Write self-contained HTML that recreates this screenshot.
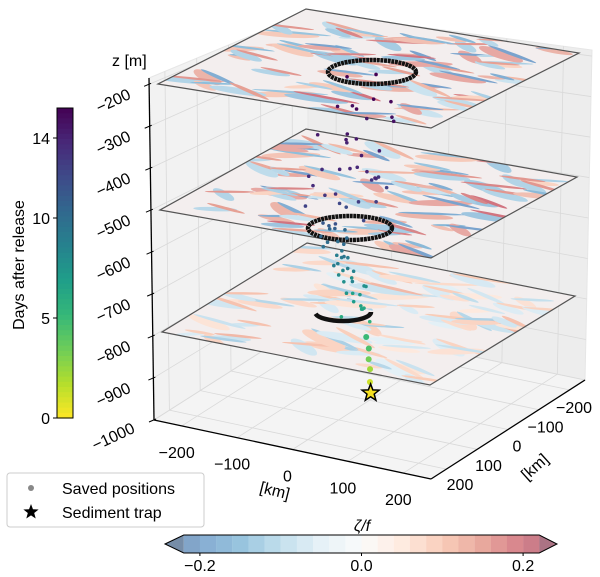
<!DOCTYPE html>
<html><head><meta charset="utf-8"><style>
html,body{margin:0;padding:0;background:#fff;}
svg{display:block;font-family:"Liberation Sans","DejaVu Sans",sans-serif;}
</style></head><body>
<svg id="fig" width="600" height="577" viewBox="0 0 600 577"><defs><clipPath id="unitclip"><rect x="0" y="0" width="100" height="100"/></clipPath></defs></svg>
<script>
// ---- data ----
const zTicks = [-200,-300,-400,-500,-600,-700,-800,-900,-1000];
const xTicks = [-200,-100,0,100,200];
const yTicks = [-200,-100,0,100,200];
const dayTicks = [0,5,10,14];
const vortTicks = [-0.2,0.0,0.2];
const planeDepths = [-190,-495,-790];
const partX = [0,40,20,-10,50,30,0,60,40,10,70,30,60,20,80,40, 0,-10,10,-20,0,-15,10,-10,0,-20,20,-10,10,0,20, 30,40,45,50,55, 25,-5,15,35,
  -30,60,-20,70,10,-40,50,-10,65,25,-35,45,5,75,-25,55,15,35,-5,85,
  -5,5,-15,15,-25,5,-5,15,-15,25,-10,0,10,-20,20,5,-5,15,-15,10];
const partY = [-40,40,60,20,0,80,60,60,120,100,90,150,130,120,150,170, 120,100,110,90,80,70,80,60,50,40,60,30,40,20,30, 60,70,80,85,95, 100,130,90,110,
  0,20,50,30,10,80,100,40,110,70,120,60,140,100,150,30,90,20,160,120,
  130,110,120,100,95,90,85,70,65,55,50,45,35,50,40,70,60,100,80,30];
const partZ = [-230,-240,-260,-280,-300,-320,-340,-350,-370,-390,-400,-420,-440,-460,-470,-480, -520,-540,-560,-580,-600,-620,-640,-660,-680,-700,-710,-730,-750,-770,-790, -810,-830,-850,-870,-895, -300,-380,-560,-650,
  -225,-250,-270,-290,-310,-330,-345,-360,-375,-395,-410,-425,-435,-450,-465,-455,-485,-440,-405,-380,
  -510,-530,-550,-570,-590,-610,-630,-650,-670,-690,-720,-740,-760,-780,-700,-620,-560,-600,-640,-760];
const partDay = [14,14,13.8,13.5,13.5,13,13,12.8,12.5,12.5,12,12,11.5,11,11,10.5, 10,9.5,9,9,8.5,8,8,7.5,7,7,6.5,6,6,5.5,5, 4.5,4,3,2,1, 13.2,12.2,9.2,7.8,
  14,13.8,13.6,13.4,13.2,13,12.9,12.7,12.6,12.4,12.2,11.9,11.7,11.4,11.2,11.3,10.7,11.8,12.3,12.6,
  10.2,9.8,9.4,9.1,8.8,8.3,8.1,7.7,7.3,7.1,6.7,6.3,5.8,5.4,6.9,8.2,9.3,8.6,8.0,5.7];
const trap = {x:57, y:97, z:-920};

const NS="http://www.w3.org/2000/svg";
const svg=document.getElementById('fig');
function el(tag,attrs,parent){const e=document.createElementNS(NS,tag);for(const k in attrs)e.setAttribute(k,attrs[k]);(parent||svg).appendChild(e);return e;}

const BL=[154,420],F=[431,479],BR=[585,380],BB=[308,322];
const TL=[149,78],TB=[308,12],TR=[592,50];
const zTop=-185,zBot=-1000;
function proj(x,y,z){
  const a=x+250,b=250-y;
  const px=BL[0]+a*(F[0]-BL[0])/500+b*(BR[0]-F[0])/500;
  const py=BL[1]+a*(F[1]-BL[1])/500+b*(BR[1]-F[1])/500;
  return [px-(z-zBot)*0.0075, py-(z-zBot)*0.4125];
}
function lerp(p,q,t){return [p[0]+(q[0]-p[0])*t,p[1]+(q[1]-p[1])*t];}
function zFrac(z){return (z-zBot)/(zTop-zBot);}

const gPane=el('g',{});


el('polygon',{points:[TL,TB,BB,BL].join(' '),fill:'#f2f2f2',stroke:'#e6e6e6'},gPane);
el('polygon',{points:[TB,TR,BR,BB].join(' '),fill:'#ededed',stroke:'#e6e6e6'},gPane);
el('polygon',{points:[BL,BB,BR,F].join(' '),fill:'#f4f4f4',stroke:'#e6e6e6'},gPane);
zTicks.forEach(z=>{const f=zFrac(z);const a=lerp(BL,TL,f),b=lerp(BB,TB,f),c=lerp(BR,TR,f);
  const l=el('polyline',{points:[a,b,c].join(' '),fill:'none',stroke:'#d9d9d9','stroke-width':0.8},gPane);
  });
xTicks.forEach(x=>{const t=(x+250)/500;const a=lerp(BL,F,t),b=lerp(BB,BR,t),c=lerp(TB,TR,t);
  const l=el('polyline',{points:[a,b,c].join(' '),fill:'none',stroke:'#d9d9d9','stroke-width':0.8},gPane);
  });
yTicks.forEach(y=>{const t=(250-y)/500;const a=lerp(F,BR,t),b=lerp(BL,BB,t),c=lerp(TL,TB,t);
  const l=el('polyline',{points:[a,b,c].join(' '),fill:'none',stroke:'#d9d9d9','stroke-width':0.8},gPane);
  });

el('line',{x1:TL[0],y1:TL[1],x2:BL[0],y2:BL[1],stroke:'#000','stroke-width':1.3});
el('line',{x1:BL[0],y1:BL[1],x2:F[0],y2:F[1],stroke:'#000','stroke-width':1.3});
el('line',{x1:F[0],y1:F[1],x2:BR[0],y2:BR[1],stroke:'#000','stroke-width':1.3});

zTicks.forEach(z=>{const f=zFrac(z);const p=lerp(BL,TL,f);
  el('line',{x1:p[0]-5,y1:p[1]+2,x2:p[0]+2,y2:p[1]-1,stroke:'#000','stroke-width':1});
  const t=el('text',{x:113,y:p[1]+22,'font-size':16,'text-anchor':'middle',transform:`rotate(-25 113 ${p[1]+16})`});
  t.textContent=(z<0?'\u2212':'')+Math.abs(z);
  
  });
const zl=el('text',{x:112,y:66,'font-size':16});zl.textContent='z [m]';


xTicks.forEach(x=>{const t=(x+250)/500;const p=lerp(BL,F,t);
  const tx=el('text',{x:p[0]-5,y:p[1]+32,'font-size':16,'text-anchor':'middle'});
  tx.textContent=(x<0?'\u2212':'')+Math.abs(x);
  });
const xl=el('text',{x:275,y:496,'font-size':16,'text-anchor':'middle',transform:'rotate(14 275 490)'});xl.textContent='[km]';


yTicks.forEach(y=>{const t=(200-y)/400;const p=lerp([460,490],[574,413],t);
  const tx=el('text',{x:p[0],y:p[1],'font-size':16,'text-anchor':'middle'});
  tx.textContent=(y<0?'\u2212':'')+Math.abs(y);
  });
const yl=el('text',{x:535,y:472,'font-size':16,'text-anchor':'middle',transform:'rotate(-42 535 467)'});yl.textContent='[km]';


const rdbu=[[5,48,97],[33,102,172],[67,147,195],[146,197,222],[209,229,240],[247,247,247],[253,219,199],[244,165,130],[214,96,77],[178,24,43],[103,0,31]];
function vortColor(v,alpha){let t=(v+0.25)/0.5;t=Math.max(0,Math.min(1,t));const s=t*(rdbu.length-1);const i=Math.min(rdbu.length-2,Math.floor(s));const f=s-i;
  const c=rdbu[i].map((a,k)=>a+(rdbu[i+1][k]-a)*f).map(a=>Math.round(255+(a-255)*alpha));return `rgb(${c[0]},${c[1]},${c[2]})`;}

const planeCorners=[
 {L:[158,84],Fr:[431,128],R:[579,53]},
 {L:[160,210],Fr:[431,258],R:[577,177]},
 {L:[162,332],Fr:[430,385],R:[575,296]}];
const blobU=[10,25,40,60,75,88,15,35,55,70,85,20,45,65,80,30,50,92,8,58];
const blobV=[15,30,10,20,40,15,60,55,70,60,75,85,40,88,55,80,25,35,40,50];
const blobR=[12,9,14,10,8,12,9,13,8,11,9,12,10,9,13,8,11,7,6,9];
const blobS=[0.18,-0.16,0.14,-0.2,0.2,-0.12,0.15,-0.18,0.2,-0.15,0.12,-0.14,0.18,-0.16,0.2,-0.12,0.14,-0.18,0.16,-0.15];
planeCorners.forEach((pc,pi)=>{
  const B=[pc.L[0]+pc.R[0]-pc.Fr[0],pc.L[1]+pc.R[1]-pc.Fr[1]];
  const g=el('g',{transform:`matrix(${(pc.Fr[0]-pc.L[0])/100},${(pc.Fr[1]-pc.L[1])/100},${(B[0]-pc.L[0])/100},${(B[1]-pc.L[1])/100},${pc.L[0]},${pc.L[1]})`});
  
  
  const gc=el('g',{'clip-path':'url(#unitclip)'},g);
  el('rect',{x:0,y:0,width:100,height:100,fill:'#f3eeee'},gc);
  const amp=pi===2?0.6:1;
  for(let layer=0;layer<3;layer++){
  blobU.forEach((u,i)=>{const k=(i+pi*7+layer*5)%blobU.length;
    const cx=(blobU[k]+layer*17)%100, cy=(blobV[(i+pi*3+layer*11)%blobV.length]+layer*23)%100;
    const s=blobS[(i+layer)%blobS.length]*amp;
    el('ellipse',{cx:cx,cy:cy,rx:blobR[i]*0.8,ry:blobR[i]*0.25,fill:vortColor(s*0.8,0.5),transform:`rotate(${(i*37+layer*50)%80-40} ${cx} ${cy})`},gc);
    el('ellipse',{cx:cx+2,cy:cy+3,rx:blobR[i]*0.9,ry:1.2,fill:vortColor(-s,0.6),transform:`rotate(${(i*23+layer*40)%60-30} ${cx} ${cy})`},gc);
  });}
  el('polygon',{points:[pc.L,pc.Fr,pc.R,B].join(' '),fill:'none',stroke:'#555','stroke-width':1.2});
});

const rings=[[372,72,44,12],[350,228,42,12],[343,312,28,9]];
rings.forEach((r,i)=>{const e=el('ellipse',{cx:r[0],cy:r[1],rx:r[2],ry:r[3],fill:'none',stroke:'#111','stroke-width':4.5,'stroke-dasharray':'3 0.6'});
  
  if(i==2) e.setAttribute('stroke-dasharray','60 200');});

const vir=[[68,1,84],[72,40,120],[62,74,137],[49,104,142],[38,130,142],[31,158,137],[53,183,121],[109,205,89],[180,222,44],[253,231,37]];
function viridis(t){t=Math.max(0,Math.min(1,t));const s=t*(vir.length-1);const i=Math.min(vir.length-2,Math.floor(s));const f=s-i;
  const c=vir[i].map((a,k)=>Math.round(a+(vir[i+1][k]-a)*f));return `rgb(${c[0]},${c[1]},${c[2]})`;}

partX.forEach((x,i)=>{const p=proj(x,partY[i],partZ[i]);
  const c=el('circle',{cx:p[0],cy:p[1],r:partDay[i]<5?3:1.8,fill:viridis(1-partDay[i]/14)});
  
  });
function starPts(cx,cy,R){const r=R*0.42;let s=[];for(let k=0;k<10;k++){const a=-Math.PI/2+k*Math.PI/5;const rr=k%2?r:R;s.push([cx+rr*Math.cos(a),cy+rr*Math.sin(a)]);}return s.join(' ');}
const tp=proj(trap.x,trap.y,trap.z);
const st=el('polygon',{points:starPts(tp[0],tp[1],9),fill:'#f5e020',stroke:'#000','stroke-width':1.5});


const cb=el('g',{});
const cbTop=108,cbBot=418,dMax=15.5;
for(let i=0;i<60;i++){const d=dMax*(1-(i+0.5)/60);el('rect',{x:57,y:cbTop+(cbBot-cbTop)*i/60,width:16,height:(cbBot-cbTop)/60+0.6,fill:viridis(1-d/dMax)},cb);}
el('rect',{x:57,y:cbTop,width:16,height:cbBot-cbTop,fill:'none',stroke:'#000','stroke-width':1},cb);
dayTicks.forEach(d=>{const y=cbBot-(cbBot-cbTop)*d/dMax;
  el('line',{x1:53,y1:y,x2:57,y2:y,stroke:'#000'},cb);
  const t=el('text',{x:50,y:y+6,'font-size':16,'text-anchor':'end'},cb);t.textContent=d;
  });
const dl=el('text',{x:24,y:265,'font-size':16,'text-anchor':'middle',transform:'rotate(-90 24 265)'});dl.textContent='Days after release';


const lg=el('g',{});
el('rect',{x:7,y:473,width:197,height:54,rx:3,fill:'#fff',stroke:'#ccc'},lg);
el('circle',{cx:31,cy:488,r:3,fill:'#888'},lg);
const l1=el('text',{x:62,y:494,'font-size':16},lg);l1.textContent='Saved positions';
el('polygon',{points:starPts(31,512,8),fill:'#000'},lg);
const l2=el('text',{x:62,y:518,'font-size':16},lg);l2.textContent='Sediment trap';

const vb=el('g',{});
const v2x=v=>361.5+v*808, vy0=535, vy1=553;
for(let k=-11;k<11;k++){const v=k*0.02;el('rect',{x:v2x(v),y:vy0,width:16.3,height:vy1-vy0,fill:vortColor(v+0.01,0.55)},vb);}
el('polygon',{points:`${v2x(-0.22)},${vy0} 165,544 ${v2x(-0.22)},${vy1}`,fill:vortColor(-0.25,0.55)},vb);
el('polygon',{points:`${v2x(0.22)},${vy0} 557,544 ${v2x(0.22)},${vy1}`,fill:vortColor(0.25,0.55)},vb);
el('polygon',{points:`165,544 ${v2x(-0.22)},${vy0} ${v2x(0.22)},${vy0} 557,544 ${v2x(0.22)},${vy1} ${v2x(-0.22)},${vy1}`,fill:'none',stroke:'#000','stroke-width':1},vb);
vortTicks.forEach(v=>{const x=v2x(v);el('line',{x1:x,y1:vy1,x2:x,y2:vy1+3,stroke:'#000'},vb);
  const t=el('text',{x:x,y:571,'font-size':16,'text-anchor':'middle'},vb);t.textContent=(v<0?'\u2212':'')+Math.abs(v).toFixed(1);
  });
const vt=el('text',{x:362,y:531,'font-size':16,'text-anchor':'middle','font-style':'italic'});vt.textContent='ζ/f';

</script>
</body></html>
